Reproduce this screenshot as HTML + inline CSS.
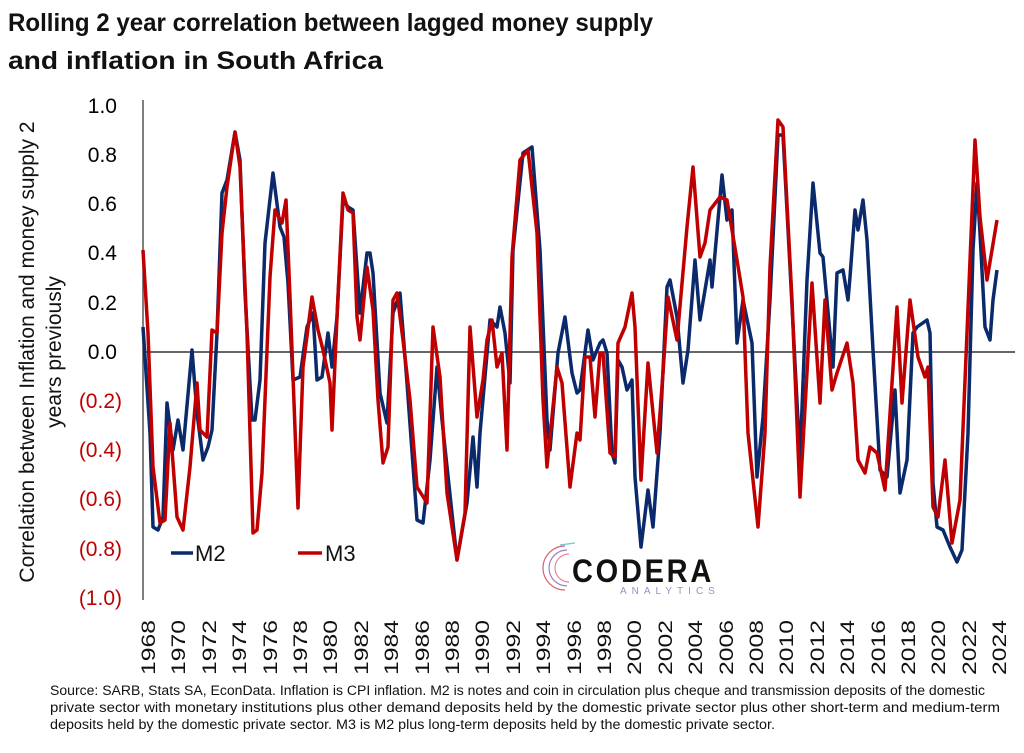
<!DOCTYPE html>
<html><head><meta charset="utf-8"><style>
body{margin:0;background:#fff;width:1024px;height:748px;overflow:hidden;font-family:"Liberation Sans",sans-serif}
</style></head><body>
<svg width="1024" height="748" xmlns="http://www.w3.org/2000/svg" font-family="Liberation Sans, sans-serif">
<text x="8" y="31" font-size="25" font-weight="bold" fill="#111" textLength="645" lengthAdjust="spacingAndGlyphs">Rolling 2 year correlation between lagged money supply</text>
<text x="8" y="69" font-size="25" font-weight="bold" fill="#111" textLength="375" lengthAdjust="spacingAndGlyphs">and inflation in South Africa</text>
<g font-size="21" transform="rotate(-90)">
<text x="-352" y="34" text-anchor="middle" fill="#111">Correlation between Inflation and money supply 2</text>
<text x="-352" y="61" text-anchor="middle" fill="#111">years previously</text>
</g>
<g font-size="21" text-anchor="end">
<text x="117" y="113">1.0</text><text x="117" y="162">0.8</text><text x="117" y="211">0.6</text><text x="117" y="260">0.4</text><text x="117" y="310">0.2</text><text x="117" y="359">0.0</text>
<g fill="#c00000"><text x="122" y="408">(0.2)</text><text x="122" y="457">(0.4)</text><text x="122" y="506">(0.6)</text><text x="122" y="556">(0.8)</text><text x="122" y="605">(1.0)</text></g>
</g>
<line x1="143" y1="100" x2="143" y2="600" stroke="#555" stroke-width="1.5"/>
<line x1="143" y1="352" x2="1015" y2="352" stroke="#333" stroke-width="1.5"/>
<g font-size="19" fill="#111">
<text transform="translate(155,675) rotate(-90)" textLength="55" lengthAdjust="spacingAndGlyphs">1968</text>
<text transform="translate(185,675) rotate(-90)" textLength="55" lengthAdjust="spacingAndGlyphs">1970</text>
<text transform="translate(216,675) rotate(-90)" textLength="55" lengthAdjust="spacingAndGlyphs">1972</text>
<text transform="translate(246,675) rotate(-90)" textLength="55" lengthAdjust="spacingAndGlyphs">1974</text>
<text transform="translate(277,675) rotate(-90)" textLength="55" lengthAdjust="spacingAndGlyphs">1976</text>
<text transform="translate(307,675) rotate(-90)" textLength="55" lengthAdjust="spacingAndGlyphs">1978</text>
<text transform="translate(337,675) rotate(-90)" textLength="55" lengthAdjust="spacingAndGlyphs">1980</text>
<text transform="translate(368,675) rotate(-90)" textLength="55" lengthAdjust="spacingAndGlyphs">1982</text>
<text transform="translate(398,675) rotate(-90)" textLength="55" lengthAdjust="spacingAndGlyphs">1984</text>
<text transform="translate(429,675) rotate(-90)" textLength="55" lengthAdjust="spacingAndGlyphs">1986</text>
<text transform="translate(459,675) rotate(-90)" textLength="55" lengthAdjust="spacingAndGlyphs">1988</text>
<text transform="translate(489,675) rotate(-90)" textLength="55" lengthAdjust="spacingAndGlyphs">1990</text>
<text transform="translate(520,675) rotate(-90)" textLength="55" lengthAdjust="spacingAndGlyphs">1992</text>
<text transform="translate(550,675) rotate(-90)" textLength="55" lengthAdjust="spacingAndGlyphs">1994</text>
<text transform="translate(581,675) rotate(-90)" textLength="55" lengthAdjust="spacingAndGlyphs">1996</text>
<text transform="translate(611,675) rotate(-90)" textLength="55" lengthAdjust="spacingAndGlyphs">1998</text>
<text transform="translate(641,675) rotate(-90)" textLength="55" lengthAdjust="spacingAndGlyphs">2000</text>
<text transform="translate(672,675) rotate(-90)" textLength="55" lengthAdjust="spacingAndGlyphs">2002</text>
<text transform="translate(702,675) rotate(-90)" textLength="55" lengthAdjust="spacingAndGlyphs">2004</text>
<text transform="translate(733,675) rotate(-90)" textLength="55" lengthAdjust="spacingAndGlyphs">2006</text>
<text transform="translate(763,675) rotate(-90)" textLength="55" lengthAdjust="spacingAndGlyphs">2008</text>
<text transform="translate(793,675) rotate(-90)" textLength="55" lengthAdjust="spacingAndGlyphs">2010</text>
<text transform="translate(824,675) rotate(-90)" textLength="55" lengthAdjust="spacingAndGlyphs">2012</text>
<text transform="translate(854,675) rotate(-90)" textLength="55" lengthAdjust="spacingAndGlyphs">2014</text>
<text transform="translate(885,675) rotate(-90)" textLength="55" lengthAdjust="spacingAndGlyphs">2016</text>
<text transform="translate(915,675) rotate(-90)" textLength="55" lengthAdjust="spacingAndGlyphs">2018</text>
<text transform="translate(945,675) rotate(-90)" textLength="55" lengthAdjust="spacingAndGlyphs">2020</text>
<text transform="translate(976,675) rotate(-90)" textLength="55" lengthAdjust="spacingAndGlyphs">2022</text>
<text transform="translate(1006,675) rotate(-90)" textLength="55" lengthAdjust="spacingAndGlyphs">2024</text>
</g>
<polyline fill="none" stroke="#0b2a6b" stroke-width="3.5" stroke-linejoin="round" points="143,327 150,433 153,527 158,530 163,517 167,403 173,450 178,420 183,450 192,350 197,413 203,460 208,447 212,430 217,333 222,193 227,180 235,132 240,160 245,293 252,420 255,420 260,380 265,243 273,173 280,227 284,237 288,283 293,380 300,377 307,327 313,313 317,380 322,377 328,333 332,367 337,317 343,200 348,207 353,210 360,313 367,253 370,253 373,273 380,393 387,423 393,313 400,293 407,383 417,520 423,523 430,460 437,367 442,420 457,560 467,503 473,437 477,487 480,433 490,320 497,327 500,307 505,333 510,383 513,250 523,153 532,147 540,250 547,420 550,450 558,353 565,317 572,373 577,393 580,390 588,330 593,360 600,343 603,340 607,353 612,453 615,463 618,360 622,367 627,390 632,380 635,477 641,547 648,490 653,527 660,433 667,287 670,280 677,317 683,383 688,350 695,260 700,320 710,260 712,287 722,175 727,220 732,210 737,343 743,300 752,343 757,477 763,417 770,300 778,135 783,135 790,267 800,460 807,280 813,183 820,253 823,257 833,367 837,273 843,270 848,300 850,277 855,210 858,230 863,200 867,240 873,350 880,470 887,477 895,390 900,493 907,460 913,333 917,327 927,320 930,333 933,483 937,527 943,530 950,547 957,562 962,550 968,433 973,250 977,183 980,233 985,327 990,340 993,300 997,270"/>
<polyline fill="none" stroke="#c00000" stroke-width="3.5" stroke-linejoin="round" points="143,250 148,333 153,467 160,523 165,520 170,423 177,517 183,530 190,467 197,383 200,430 207,437 212,330 217,333 222,233 227,187 235,132 240,167 247,333 253,533 257,530 262,473 270,277 275,210 282,223 286,200 290,297 298,508 303,367 312,297 318,330 323,350 330,383 332,430 337,317 343,193 348,210 353,213 357,317 360,340 367,267 373,310 378,400 383,463 388,447 393,300 397,293 403,340 410,400 417,487 427,503 433,327 440,377 447,493 457,560 465,513 470,327 477,417 483,380 487,340 492,320 497,367 502,353 507,450 512,257 520,160 528,150 537,233 543,400 547,467 557,367 562,383 570,487 577,433 580,440 585,357 590,357 595,417 600,353 603,353 610,453 615,457 618,343 625,327 632,293 635,327 641,480 648,363 657,453 663,373 668,297 677,340 687,227 693,167 700,257 705,243 710,210 720,197 727,200 737,260 743,297 748,433 758,527 765,433 770,267 778,120 783,127 792,300 800,497 812,283 820,403 825,300 832,390 837,373 847,343 853,383 858,460 865,473 870,447 877,453 885,490 897,307 902,403 910,300 918,357 925,377 928,367 933,507 938,517 945,460 952,543 960,500 967,333 975,140 980,217 987,280 997,220"/>
<line x1="171" y1="553" x2="193" y2="553" stroke="#0b2a6b" stroke-width="3.5"/>
<text x="195" y="561" font-size="22" fill="#111">M2</text>
<line x1="298" y1="553" x2="322" y2="553" stroke="#c00000" stroke-width="3.5"/>
<text x="325" y="561" font-size="22" fill="#111">M3</text>
<g fill="none" stroke-width="1.2">
<path d="M565,546 A22,22 0 0 0 565,590" stroke="#d9667a"/>
<path d="M567,550 A18,18 0 0 0 567,586" stroke="#9a7fc0"/>
<path d="M569,554 A14,14 0 0 0 569,582" stroke="#e58a9a"/>
<path d="M560,545 L575,543" stroke="#6fc6d6"/>
</g>
<text x="572" y="582" font-size="32" font-weight="bold" letter-spacing="3" fill="#111" textLength="142" lengthAdjust="spacingAndGlyphs">CODERA</text>
<text x="620" y="594" font-size="10" letter-spacing="5" fill="#9a8fc8">ANALYTICS</text>
<g font-size="13.5" fill="#111">
<text x="50" y="695" textLength="935" lengthAdjust="spacingAndGlyphs">Source: SARB, Stats SA, EconData. Inflation is CPI inflation. M2 is notes and coin in circulation plus cheque and transmission deposits of the domestic</text>
<text x="50" y="712" textLength="950" lengthAdjust="spacingAndGlyphs">private sector with monetary institutions plus other demand deposits held by the domestic private sector plus other short-term and medium-term</text>
<text x="50" y="729" textLength="725" lengthAdjust="spacingAndGlyphs">deposits held by the domestic private sector. M3 is M2 plus long-term deposits held by the domestic private sector.</text>
</g>
</svg>
</body></html>
